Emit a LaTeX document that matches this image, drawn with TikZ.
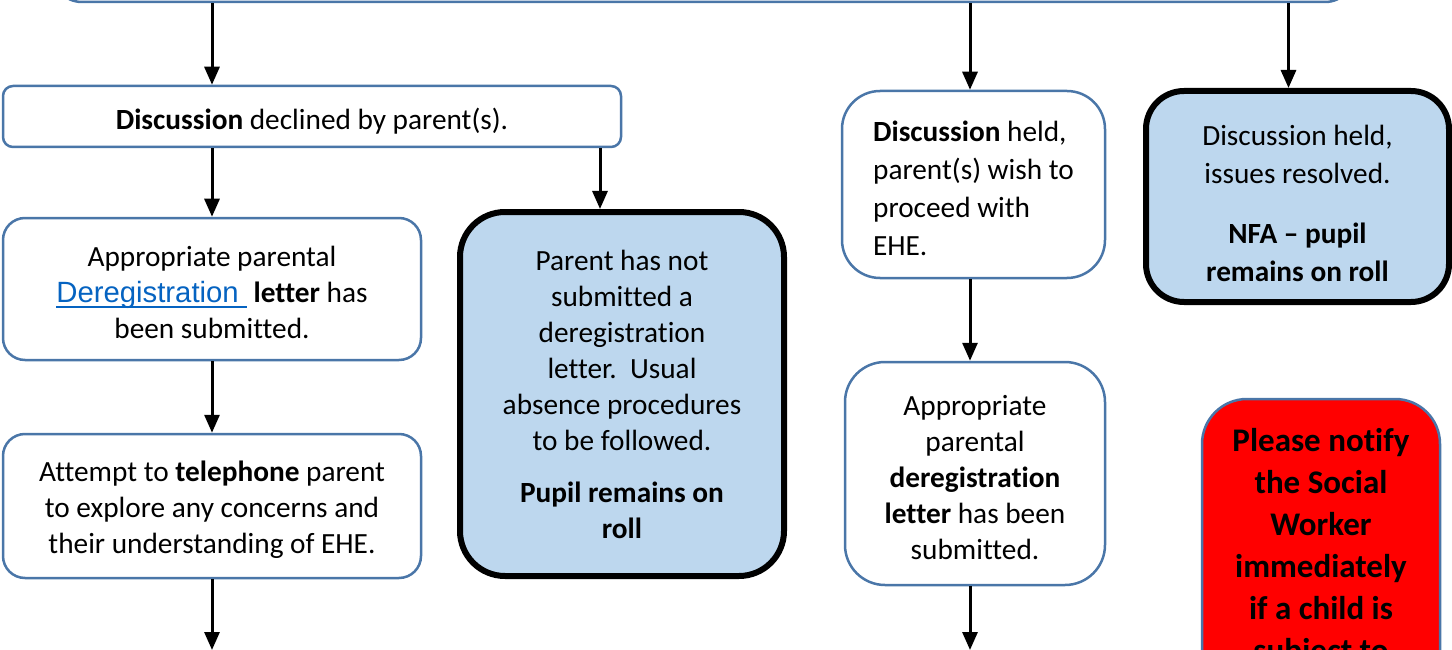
\documentclass[tikz,border=0pt]{standalone}
\usepackage{fontspec}
\setmainfont{Carlito}[Ligatures={TeX,NoCommon}]
\newfontfamily\linkfont{Liberation Sans}
\usetikzlibrary{arrows.meta,positioning,calc}
\definecolor{Edge}{HTML}{4A76A8}
\definecolor{PaleBlue}{HTML}{BDD7EE}
\definecolor{Link}{HTML}{0563C1}
\definecolor{Alert}{HTML}{FF0000}
\newcommand{\deregLink}{\mbox{\linkfont\color{Link}\setbox0\hbox{Deregistration\ }\rlap{\rule[-5pt]{\wd0}{2pt}}\box0}}
\newcommand{\lift}[1]{\rule{0pt}{#1}}

\begin{document}
\begin{tikzpicture}[x=1pt,y=-1pt,
b/.style={draw=Edge,line width=2.5pt,fill=white,rounded corners=22pt,align=center,inner sep=0pt,font=\fontsize{29.3}{36}\selectfont},
k/.style={b,draw=black,line width=6pt,fill=PaleBlue},
a/.style={-{Triangle[length=18pt,width=15pt]},line width=3pt}]
\useasboundingbox (0,0) rectangle (1452,650);
\clip (0,0) rectangle (1452,650);
\node[b,minimum width=1303,minimum height=100,rounded corners=30pt] (top) at (703.5,-48) {};
\node[b,minimum width=618,minimum height=61,rounded corners=10pt] (d) at (312,116.5) {\lift{31pt}\textbf{Discussion} declined by parent(s).};
\node[b,minimum width=418,minimum height=142] (apr) at (212,289) {\lift{28pt}Appropriate parental\\\deregLink\ \textbf{letter} has\\been submitted.};
\node[b,minimum width=418,minimum height=144] (tel) at (212,506) {\lift{29pt}Attempt to \textbf{telephone} parent\\to explore any concerns and\\their understanding of EHE.};
\node[k,minimum width=324,minimum height=364,rounded corners=45pt] (pn) at (622,394) {Parent has not\\submitted a\\deregistration\\letter.\ \ Usual\\absence procedures\\to be followed.\\[16pt]\textbf{Pupil remains on}\\\textbf{roll}};
\node[b,minimum width=263,minimum height=187,rounded corners=38pt,align=left,font=\fontsize{29.3}{38}\selectfont] (hp) at (973.5,184.5) {\lift{28pt}\textbf{Discussion} held,\\parent(s) wish to\\proceed with\\EHE.};
\node[b,minimum width=260,minimum height=223,rounded corners=40pt] (ad) at (975,473.5) {\lift{29pt}Appropriate\\parental\\\textbf{deregistration}\\\textbf{letter} has been\\submitted.};
\node[k,minimum width=303,minimum height=211,rounded corners=38pt,font=\fontsize{29.3}{38}\selectfont] (ir) at (1297.5,196.5) {\lift{34pt}Discussion held,\\issues resolved.\\[22pt]\textbf{NFA – pupil}\\\textbf{remains on roll}};
\node[b,fill=Alert,minimum width=238,minimum height=297,rounded corners=45pt,font=\fontsize{33}{42}\selectfont\bfseries] (r) at (1321,547.5) {Please notify\\the Social\\Worker\\immediately\\if a child is\\subject to};
% loose ends and offset entry points
\coordinate (e1) at (212,650);
\coordinate (e2) at (970,650);
\coordinate (pnin) at ([xshift=-22pt]pn.north);
\coordinate (irin) at ([xshift=-9pt]ir.north);
\draw[a] (top.south -| apr.north) -- (d.north -| apr.north);
\draw[a] (top.south -| e2) -- (hp.north -| e2);
\draw[a] (top.south -| irin) -- (irin);
\draw[a] (d.south -| apr.north) -- (apr.north);
\draw[a] (d.south -| pnin) -- (pnin);
\draw[a] (apr) -- (tel);
\draw[a] (tel) -- (e1);
\draw[a] (hp.south -| e2) -- (ad.north -| e2);
\draw[a] (ad.south -| e2) -- (e2);
\end{tikzpicture}
\end{document}
